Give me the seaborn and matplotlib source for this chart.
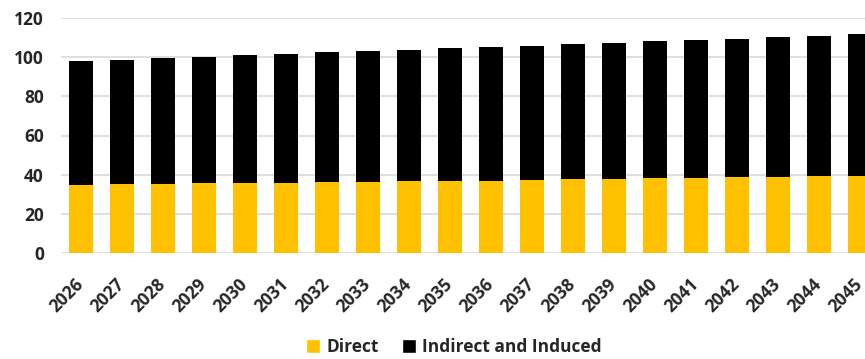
import matplotlib
matplotlib.use("Agg")
import matplotlib.pyplot as plt
import matplotlib.transforms as mtransforms
import seaborn as sns
import pandas as pd
from matplotlib.patches import Patch

years = [str(y) for y in range(2026, 2046)]
direct = [34.9, 35.1, 35.3, 35.5, 35.7, 35.9, 36.1, 36.3, 36.6, 36.8,
          37.0, 37.3, 37.6, 37.9, 38.1, 38.4, 38.7, 39.0, 39.2, 39.5]
indirect = [63.1, 63.7, 64.3, 64.8, 65.3, 65.8, 66.3, 66.8, 67.2, 67.7,
            68.2, 68.6, 69.1, 69.5, 70.0, 70.4, 70.8, 71.3, 71.8, 72.2]
yticks = [0, 20, 40, 60, 80, 100, 120]

df = pd.DataFrame({"year": years, "direct": direct, "indirect": indirect})
df["total"] = df["direct"] + df["indirect"]

sns.set_theme(style="white")
plt.rcParams["font.family"] = ["Open Sans", "DejaVu Sans"]

W, H = 865, 359
fig = plt.figure(figsize=(W / 100, H / 100), dpi=100)
ax = fig.add_axes([60.5 / W, (H - 253) / H, (W - 60.5) / W, 235 / H])

YEL = "#FFC000"
BLK = "#000000"
sns.barplot(data=df, x="year", y="total", color=BLK, saturation=1, width=0.59,
            ax=ax, zorder=2, linewidth=0)
sns.barplot(data=df, x="year", y="direct", color=YEL, saturation=1, width=0.59,
            ax=ax, zorder=3, linewidth=0)

FS = 12.5
ax.set_ylim(0, 120)
ax.set_xlim(-0.5, 19.5 - 15.5 / 41)
ax.set_yticks(yticks)
ax.set_yticklabels([str(v) for v in yticks], fontsize=FS, fontweight="bold")
ax.yaxis.grid(True, color="#d9d9d9", linewidth=1.2, zorder=0)
ax.set_axisbelow(True)
for s in ax.spines.values():
    s.set_visible(False)
ax.tick_params(axis="y", length=0, pad=12)
ax.tick_params(axis="x", length=0, pad=16)
ax.set_xlabel("")
ax.set_ylabel("")
ax.set_xticks(range(len(years)))
ax.set_xticklabels(years, rotation=45, ha="right", rotation_mode="anchor",
                   fontsize=FS, fontweight="bold")
shift = mtransforms.ScaledTranslation(-0.07, 0, fig.dpi_scale_trans)
for lbl in ax.get_xticklabels():
    lbl.set_transform(lbl.get_transform() + shift)

handles = [Patch(facecolor=YEL, label="Direct"),
           Patch(facecolor=BLK, label="Indirect and Induced")]
fig.legend(handles=handles, loc="center", bbox_to_anchor=(454 / W, 1 - 347 / H),
           ncol=2, frameon=False, prop={"weight": "bold", "size": FS},
           handlelength=0.8, handleheight=0.8, handletextpad=0.4, columnspacing=1.3)

fig.savefig("out.png", dpi=100)
